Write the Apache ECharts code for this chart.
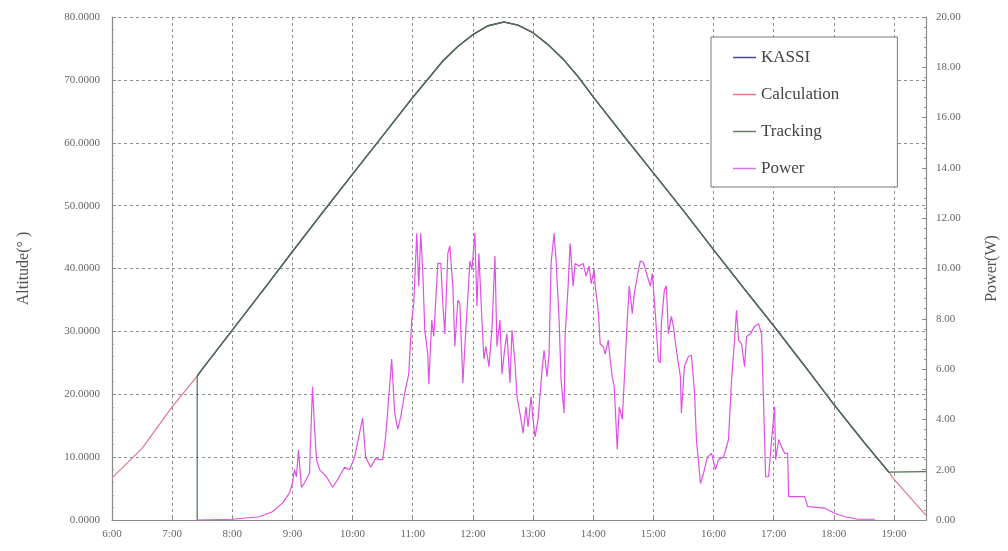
<!DOCTYPE html>
<html>
<head>
<meta charset="utf-8">
<title>Solar altitude tracking and power</title>
<script src="https://cdn.jsdelivr.net/npm/echarts@6/dist/echarts.min.js"></script>
<style>
  html, body { margin: 0; padding: 0; background: #fff; }
  #chart { width: 1008px; height: 551px; }
</style>
</head>
<body>
<div id="chart"></div>
<script>
// Calculated solar altitude (degrees) through the day
const calcTime = ['6:00','6:30','7:00','7:25','7:30','8:00','8:30','9:00','9:30','10:00','10:30','11:00','11:30','11:45','12:00','12:15','12:31','12:45','13:00','13:15','13:30','13:45','14:00','14:30','15:00','15:30','16:00','16:30','17:00','17:30','18:00','18:30','18:55','19:00','19:30','19:32'];
const calcAlt  = [6.7, 11.4, 18.0, 22.9, 24.0, 30.2, 36.4, 42.7, 48.9, 55.0, 61.1, 67.2, 73.0, 75.3, 77.2, 78.6, 79.2, 78.7, 77.5, 75.6, 73.3, 70.5, 67.3, 61.2, 55.2, 49.2, 43.0, 36.9, 30.9, 24.7, 18.4, 12.4, 7.6, 6.5, 1.1, 0.8];

// Tracker window: starts from rest, follows the sun, then holds its last angle
const trackStart = '7:25';
const trackEnd = '18:55';
const trackHold = 7.7;

// Panel output power (W)
const powerTime = ['7:25','8:00','8:27','8:40','8:50','8:57','9:00','9:02','9:04','9:06','9:09','9:12','9:17','9:20','9:22','9:24','9:27','9:34','9:40','9:45','9:52','9:57','10:02','10:10','10:13','10:18','10:23','10:27','10:30','10:33','10:39','10:42','10:45','10:48','10:52','10:56','10:59','11:01','11:04','11:06','11:08','11:10','11:12','11:15','11:16','11:19','11:21','11:25','11:28','11:30','11:32','11:35','11:37','11:40','11:42','11:45','11:47','11:50','11:52','11:55','11:57','11:59','12:02','12:04','12:06','12:09','12:11','12:13','12:16','12:19','12:22','12:24','12:27','12:29','12:32','12:34','12:37','12:39','12:42','12:44','12:48','12:50','12:53','12:55','12:58','13:00','13:02','13:05','13:09','13:11','13:14','13:16','13:18','13:21','13:23','13:26','13:28','13:31','13:32','13:35','13:37','13:40','13:42','13:46','13:50','13:53','13:56','13:58','14:01','14:02','14:05','14:07','14:10','14:12','14:15','14:17','14:19','14:21','14:24','14:26','14:29','14:31','14:34','14:36','14:39','14:41','14:44','14:47','14:50','14:54','14:57','14:59','15:02','15:05','15:07','15:08','15:11','15:13','15:15','15:18','15:20','15:23','15:27','15:28','15:31','15:35','15:38','15:41','15:43','15:47','15:50','15:54','15:58','16:02','16:05','16:10','16:15','16:18','16:21','16:23','16:25','16:28','16:31','16:33','16:37','16:41','16:45','16:48','16:51','16:52','16:55','16:58','17:01','17:02','17:05','17:08','17:11','17:14','17:15','17:31','17:34','17:51','18:01','18:11','18:24','18:41'];
const powerW = [0, 0.03, 0.13, 0.33, 0.67, 1.07, 1.47, 2.0, 1.72, 2.78, 1.3, 1.47, 1.87, 5.3, 3.7, 2.4, 2.0, 1.72, 1.3, 1.6, 2.1, 2.0, 2.5, 4.05, 2.5, 2.1, 2.45, 2.4, 2.4, 3.3, 6.4, 4.25, 3.6, 4.1, 5.05, 5.8, 7.95, 8.6, 11.4, 9.3, 11.4, 9.9, 7.55, 6.6, 5.4, 7.95, 7.3, 10.2, 10.2, 8.6, 7.4, 10.6, 10.9, 9.3, 6.9, 8.75, 8.6, 5.45, 6.9, 8.9, 10.3, 9.95, 11.4, 8.5, 10.6, 7.95, 6.4, 6.9, 6.1, 7.55, 10.5, 6.9, 7.95, 5.8, 6.9, 7.4, 5.45, 7.55, 6.25, 4.9, 4.0, 3.45, 4.5, 3.7, 4.9, 4.0, 3.3, 4.0, 5.95, 6.75, 5.7, 6.6, 10.2, 11.4, 10.3, 7.95, 5.55, 4.25, 7.3, 9.3, 11.0, 9.3, 10.2, 10.1, 10.2, 9.7, 10.1, 9.4, 9.95, 9.3, 8.35, 7.0, 6.9, 6.6, 7.15, 6.35, 5.7, 5.3, 2.8, 4.5, 4.0, 5.55, 7.95, 9.3, 8.2, 9.0, 9.7, 10.3, 10.25, 9.7, 9.3, 9.8, 8.2, 6.35, 6.25, 7.8, 9.15, 9.3, 7.4, 8.1, 7.7, 6.75, 5.7, 4.25, 6.1, 6.5, 6.55, 5.15, 3.2, 1.45, 1.85, 2.5, 2.65, 2.0, 2.4, 2.5, 3.2, 5.55, 7.15, 8.35, 7.15, 7.0, 6.1, 7.3, 7.4, 7.7, 7.8, 7.4, 3.2, 1.72, 1.72, 3.2, 4.5, 2.4, 3.2, 2.9, 2.65, 2.65, 0.93, 0.93, 0.53, 0.47, 0.27, 0.13, 0.03, 0.03];

// Axis ranges
const hourMin = 6, hourMax = '19:32';
const altMax = 80, altStep = 10;
const powMax = 20, powStep = 2;

const toHours = t => { const [h, m] = t.split(':').map(Number); return h + m / 60; };

const calcData = calcTime.map((t, i) => [toHours(t), calcAlt[i]]);
const t0 = toHours(trackStart), t1 = toHours(trackEnd), tEnd = toHours(hourMax);
const kassiData = calcData.filter(p => p[0] >= t0 - 1e-9 && p[0] <= t1 + 1e-9);
const trackData = [[t0, 0]].concat(kassiData, [[tEnd, trackHold]]);
const powerData = powerTime.map((t, i) => [toHours(t), powerW[i]]);

const serif = "'Liberation Serif', 'DejaVu Serif', 'Times New Roman', serif";
const gridLine = { show: true, lineStyle: { color: '#8f8f8f', type: [3, 3], width: 1 } };
const axisLine = { show: true, lineStyle: { color: '#8a8a8a', width: 1.2 } };

const colors = { kassi: '#4b4b8c', calc: '#e0788a', track: '#4c7446', power: '#e050e6' };

const chart = echarts.init(document.getElementById('chart'), null, { renderer: 'canvas' });
chart.setOption({
  animation: false,
  backgroundColor: '#fff',
  grid: { left: 112, right: 76, top: 17, bottom: 31, containLabel: false },
  legend: {
    orient: 'vertical',
    left: 711,
    top: 37,
    padding: [12, 58, 10, 22],
    itemGap: 20,
    itemWidth: 23,
    itemHeight: 1.5,
    icon: 'rect',
    backgroundColor: '#fff',
    borderColor: '#7a7a7a',
    borderWidth: 1,
    textStyle: { fontFamily: serif, fontSize: 17, color: '#444' },
    data: ['KASSI', 'Calculation', 'Tracking', 'Power']
  },
  xAxis: {
    type: 'value',
    min: hourMin,
    max: tEnd,
    interval: 1,
    axisLine: axisLine,
    axisTick: { show: true, inside: true, length: 4, lineStyle: { color: '#8a8a8a' } },
    splitLine: gridLine,
    axisLabel: {
      fontFamily: serif, fontSize: 11, color: '#666', margin: 9,
      formatter: v => Number.isInteger(Math.round(v * 1000) / 1000) ? Math.round(v) + ':00' : ''
    }
  },
  yAxis: [
    {
      type: 'value',
      min: 0, max: altMax, interval: altStep,
      name: 'Altitude(° )',
      nameLocation: 'middle',
      nameRotate: 90,
      nameGap: 80,
      nameTextStyle: { fontFamily: serif, fontSize: 16, color: '#555' },
      axisLine: axisLine,
      axisTick: { show: true, inside: true, length: 4, lineStyle: { color: '#8a8a8a' } },
      minorTick: { show: true, splitNumber: 5, length: 2, lineStyle: { color: '#9a9a9a' } },
      splitLine: gridLine,
      axisLabel: { fontFamily: serif, fontSize: 11, color: '#666', margin: 12, formatter: v => v.toFixed(4) }
    },
    {
      type: 'value',
      min: 0, max: powMax, interval: powStep,
      name: 'Power(W)',
      nameLocation: 'middle',
      nameRotate: 90,
      nameGap: 58,
      nameTextStyle: { fontFamily: serif, fontSize: 16, color: '#555' },
      axisLine: axisLine,
      axisTick: { show: true, inside: true, length: 4, lineStyle: { color: '#8a8a8a' } },
      minorTick: { show: true, splitNumber: 5, length: 2, lineStyle: { color: '#9a9a9a' } },
      splitLine: { show: false },
      axisLabel: { fontFamily: serif, fontSize: 11, color: '#666', margin: 10, formatter: v => v.toFixed(2) }
    }
  ],
  series: [
    {
      name: 'Calculation', type: 'line', yAxisIndex: 0, data: calcData,
      symbol: 'none', lineStyle: { color: colors.calc, width: 1.2 }, itemStyle: { color: colors.calc }
    },
    {
      name: 'KASSI', type: 'line', yAxisIndex: 0, data: kassiData,
      symbol: 'none', lineStyle: { color: colors.kassi, width: 1.4 }, itemStyle: { color: colors.kassi }
    },
    {
      name: 'Tracking', type: 'line', yAxisIndex: 0, data: trackData,
      symbol: 'none', lineStyle: { color: colors.track, width: 1.2 }, itemStyle: { color: '#6a7f66' }
    },
    {
      name: 'Power', type: 'line', yAxisIndex: 1, data: powerData,
      symbol: 'none', lineStyle: { color: colors.power, width: 1.2 }, itemStyle: { color: '#e070e8' }
    }
  ]
});
</script>
</body>
</html>
